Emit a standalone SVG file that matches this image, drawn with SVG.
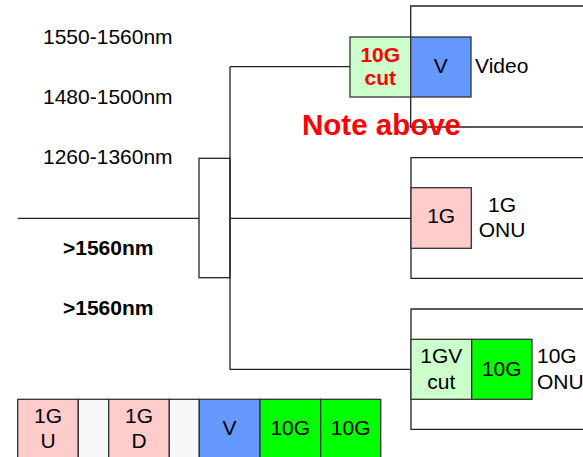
<svg xmlns="http://www.w3.org/2000/svg" width="583" height="457" viewBox="0 0 583 457">
<style>
text{font-family:"Liberation Sans",Arial,sans-serif;font-size:21px;fill:#000}
.c{text-anchor:middle}
.b{font-weight:bold}
.red{fill:#ff0000}
.box{stroke:#333;stroke-width:1.3}
.ln{stroke:#222;stroke-width:1.3;fill:none}
.pink{fill:#ffcccc}.lg{fill:#ccffcc}.blue{fill:#6699ff}.green{fill:#00ff00}.blank{fill:#f8f8f8}
</style>
<rect width="583" height="457" fill="#fff"/>
<g id="labels">
<text x="43" y="43.5">1550-1560nm</text>
<text x="43" y="103.5">1480-1500nm</text>
<text x="43" y="163.5">1260-1360nm</text>
<text x="63" y="254.5" class="b">&gt;1560nm</text>
<text x="63" y="314.5" class="b">&gt;1560nm</text>
</g>
<g id="connectors">
<path class="ln" d="M18 218.3H199M230 218.3H411M230 66.7H350M230 66.7V369.3H411"/>
</g>
<g id="splitter"><rect class="ln" x="199" y="158.3" width="31" height="119.4"/></g>
<g id="onu-video">
<path class="ln" d="M583 6H410.7V127H583"/>
<rect class="box lg" x="350" y="37" width="60.7" height="60"/>
<rect class="box blue" x="410.7" y="37" width="60.3" height="60"/>
<text x="380.3" y="62" class="c b red">10G</text>
<text x="380.3" y="85" class="c b red">cut</text>
<text x="440.8" y="73" class="c">V</text>
<text x="475" y="73">Video</text>
</g>
<g id="note"><text x="302" y="135" class="b red" style="font-size:29.5px">Note above</text></g>
<g id="onu-1g">
<path class="ln" d="M583 157.7H411V278.3H583"/>
<rect class="box pink" x="411" y="187.7" width="60.3" height="60.6"/>
<text x="441.2" y="223.3" class="c">1G</text>
<text x="502" y="211.7" class="c">1G</text>
<text x="502" y="236.7" class="c">ONU</text>
</g>
<g id="onu-10g">
<path class="ln" d="M583 309H411V429.3H583"/>
<rect class="box lg" x="411" y="339.3" width="60.7" height="60"/>
<rect class="box green" x="471.7" y="339.3" width="60.3" height="60"/>
<text x="441.3" y="362.7" class="c">1GV</text>
<text x="441.3" y="389" class="c">cut</text>
<text x="501.8" y="376" class="c">10G</text>
<text x="537" y="362.7">10G</text>
<text x="537" y="389">ONU</text>
</g>
<g id="spectrum">
<rect class="box pink" x="17.7" y="399.3" width="60.6" height="70"/>
<rect class="box blank" x="78.3" y="399.3" width="30.4" height="70"/>
<rect class="box pink" x="108.7" y="399.3" width="60.6" height="70"/>
<rect class="box blank" x="169.3" y="399.3" width="30" height="70"/>
<rect class="box blue" x="199.3" y="399.3" width="60.7" height="70"/>
<rect class="box green" x="260" y="399.3" width="60.7" height="70"/>
<rect class="box green" x="320.7" y="399.3" width="60" height="70"/>
<text x="48" y="423.3" class="c">1G</text>
<text x="48" y="448.3" class="c">U</text>
<text x="139" y="423.3" class="c">1G</text>
<text x="139" y="448.3" class="c">D</text>
<text x="229.6" y="435" class="c">V</text>
<text x="290.3" y="435" class="c">10G</text>
<text x="350.7" y="435" class="c">10G</text>
</g>
</svg>
